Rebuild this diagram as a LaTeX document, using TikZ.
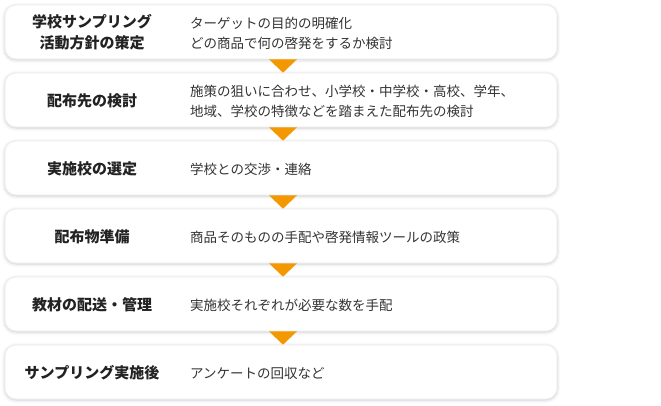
\documentclass[tikz,border=0pt]{standalone}
\usepackage{fontspec}
\setmainfont{Noto Sans CJK JP}
\usetikzlibrary{shadows.blur}
\definecolor{arr}{HTML}{F39800}
\definecolor{lbl}{HTML}{222222}
\definecolor{dsc}{HTML}{333333}
\tikzset{
  stepbox/.style={draw=black!8, line width=0.6pt, fill=white, rounded corners=11pt,
    minimum width=552pt, minimum height=54pt, inner sep=0pt,
    blur shadow={shadow xshift=0pt, shadow yshift=-1pt, shadow blur radius=3.5pt, shadow blur steps=6, shadow opacity=20}},
  lbltext/.style={font=\fontsize{15pt}{21pt}\selectfont\bfseries, text=lbl, align=center, inner sep=0pt},
  dsctext/.style={font=\fontsize{13.5pt}{20pt}\selectfont, text=dsc, align=left, anchor=west, inner sep=0pt},
  tri/.style={fill=arr}
}
\begin{document}
\begin{tikzpicture}[x=1pt,y=-1pt]
\useasboundingbox (0,0) rectangle (661,406);
\foreach \i/\lab/\dsc in {
  1/{学校サンプリング\\活動方針の策定}/{ターゲットの目的の明確化\\どの商品で何の啓発をするか検討},
  2/{配布先の検討}/{施策の狙いに合わせ、小学校・中学校・高校、学年、\\地域、学校の特徴などを踏まえた配布先の検討},
  3/{実施校の選定}/{学校との交渉・連絡},
  4/{配布物準備}/{商品そのものの手配や啓発情報ツールの政策},
  5/{教材の配送・管理}/{実施校それぞれが必要な数を手配},
  6/{サンプリング実施後}/{アンケートの回収など}}{
  \node[stepbox] (b\i) at (281, {32+68*(\i-1)}) {};
  \node[lbltext] (l\i) at (92, {32.5+68*(\i-1)}) {\lab};
  \node[dsctext] (d\i) at (190, {33.5+68*(\i-1)}) {\dsc};
}
\foreach \i [evaluate=\i as \j using int(\i+1)] in {1,...,5}{
  \fill[tri] ([xshift=-12pt]b\i.south) -- ([xshift=16pt]b\i.south) -- ([xshift=2pt]b\j.north) -- cycle;
}
\end{tikzpicture}
\end{document}
